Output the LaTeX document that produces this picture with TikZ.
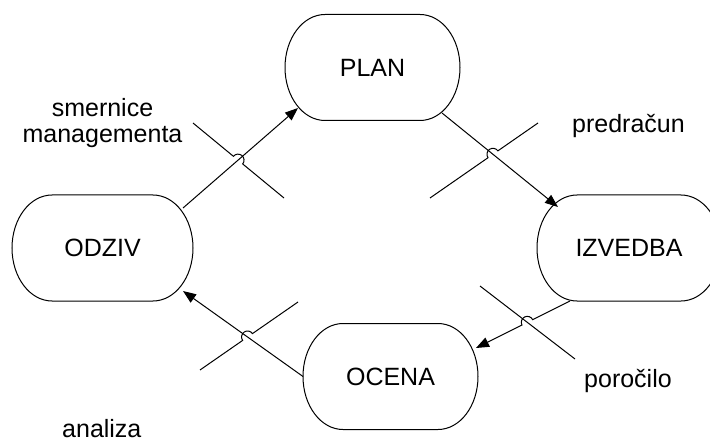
\documentclass[tikz,border=0pt]{standalone}
\usepackage{fontspec}
\setmainfont{Liberation Sans}
\usetikzlibrary{arrows.meta,calc,intersections}

\newcommand{\stadium}[1]{%
  \draw[line width=1pt] ([xshift=40pt]#1.north west) -- ([xshift=-40pt]#1.north east)
    arc[start angle=90, end angle=-90, x radius=40pt, y radius=53pt]
    -- ([xshift=40pt]#1.south west)
    arc[start angle=270, end angle=90, x radius=40pt, y radius=53pt] -- cycle;}

\newcommand{\jumpdraw}[5]{%
  \draw[#1] let \p1=($(#3)-(#2)$), \n1={atan2(\y1,\x1)} in
    (#2) -- ($(#4)!6pt!(#2)$) arc[start angle=\n1+180, delta angle=#5, radius=6pt] -- (#3);}

\begin{document}
\begin{tikzpicture}[x=1pt,y=1pt,
  every node/.style={font=\fontsize{25}{30}\selectfont},
  box/.style={inner sep=0pt, outer sep=0pt, minimum height=106pt},
  conn/.style={line width=1pt, -{Triangle[length=13pt,width=10pt]}},
  crossline/.style={line width=1pt},
  lbl/.style={anchor=base west, inner sep=0pt},
  lblc/.style={anchor=base, inner sep=0pt}]
\useasboundingbox (0,0) rectangle (710,-441);
\fill[white] (0,0) rectangle (710,-441);

% nodes
\node[box, minimum width=175pt] (plan) at (372.5,-67.5) {PLAN};
\node[box, minimum width=181pt] (odziv) at (102.5,-248) {ODZIV};
\node[box, minimum width=184pt] (izvedba) at (629,-248) {IZVEDBA};
\node[box, minimum width=175pt] (ocena) at (390.5,-376.5) {OCENA};
\stadium{plan}
\stadium{odziv}
\stadium{izvedba}
\stadium{ocena}

% connector end points
\coordinate (a1s) at ([shift={(80.5,40)}]odziv.center);
\coordinate (a1e) at ([shift={(-74.5,-40.5)}]plan.center);
\coordinate (a2s) at ([shift={(69.5,-45.5)}]plan.center);
\coordinate (a2e) at ([shift={(-71,41)}]izvedba.center);
\coordinate (a3s) at ([shift={(-59,-53)}]izvedba.center);
\coordinate (a3e) at ([shift={(85.5,28.5)}]ocena.center);
\coordinate (a4s) at (ocena.west);
\coordinate (a4e) at ([shift={(80.5,-43)}]odziv.center);

% crossing lines
\coordinate (c1s) at (193,-123);
\coordinate (c1e) at (284,-198);
\coordinate (c2s) at (430,-198);
\coordinate (c2e) at (538,-123);
\coordinate (c3s) at (480,-286);
\coordinate (c3e) at (575,-359);
\coordinate (c4s) at (200,-370);
\coordinate (c4e) at (298,-302);

\path[name path=pa1] (a1s) -- (a1e);
\path[name path=pc1] (c1s) -- (c1e);
\path[name path=pa2] (a2s) -- (a2e);
\path[name path=pc2] (c2s) -- (c2e);
\path[name path=pa3] (a3s) -- (a3e);
\path[name path=pc3] (c3s) -- (c3e);
\path[name path=pa4] (a4s) -- (a4e);
\path[name path=pc4] (c4s) -- (c4e);
\path[name intersections={of=pa1 and pc1, by=x1}];
\path[name intersections={of=pa2 and pc2, by=x2}];
\path[name intersections={of=pa3 and pc3, by=x3}];
\path[name intersections={of=pa4 and pc4, by=x4}];

% connectors
\draw[conn] (a1s) -- (a1e);
\draw[conn] (a2s) -- (a2e);
\jumpdraw{conn}{a3s}{a3e}{x3}{180}
\draw[conn] (a4s) -- (a4e);

\jumpdraw{crossline}{c1s}{c1e}{x1}{-180}
\jumpdraw{crossline}{c2s}{c2e}{x2}{-180}
\draw[crossline] (c3s) -- (c3e);
\jumpdraw{crossline}{c4s}{c4e}{x4}{-180}

% labels
\node[lblc] (l1) at (102.5,-117) {smernice};
\node[lblc] (l2) at (102.5,-143) {managementa};
\node[lbl] (l3) at (572,-133) {predračun};
\node[lbl] (l4) at (584,-387) {poročilo};
\node[lbl] (l5) at (62,-437) {analiza};
\end{tikzpicture}
\end{document}
